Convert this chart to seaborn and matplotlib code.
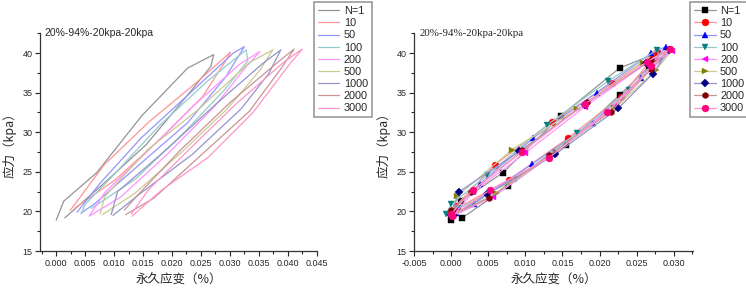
import numpy as np
import pandas as pd
import matplotlib
matplotlib.use('Agg')
import matplotlib.pyplot as plt
import matplotlib.colors as mcolors
import seaborn as sns
from matplotlib.ticker import MultipleLocator, AutoMinorLocator

sns.set_style('ticks')
plt.rcParams['font.family'] = ['Liberation Sans', 'Noto Sans CJK SC', 'DejaVu Sans']

# cycle labels
labels = ['N=1', '10', '50', '100', '200', '500', '1000', '2000', '3000']

# accumulated permanent strain at the start of each cycle (left panel shift)
offsets = [0.0000, 0.0024, 0.0036, 0.0050, 0.0055, 0.0076, 0.0095, 0.0118, 0.0130]

# loops relative to cycle start (right panel): loading branch then unloading branch
strain = [
    [0.0000, 0.0013, 0.0070, 0.0148, 0.0227, 0.0272, 0.0267, 0.0227, 0.0155, 0.0077, 0.0015],
    [0.0000, 0.0006, 0.0059, 0.0136, 0.0217, 0.0277, 0.0272, 0.0229, 0.0158, 0.0078, 0.0008],
    [0.0000, 0.0039, 0.0111, 0.0196, 0.0270, 0.0289, 0.0256, 0.0191, 0.0109, 0.0031, 0.0007],
    [-0.0007, 0.0000, 0.0049, 0.0129, 0.0212, 0.0278, 0.0281, 0.0240, 0.0170, 0.0087, 0.0011],
    [0.0003, 0.0029, 0.0100, 0.0180, 0.0262, 0.0297, 0.0270, 0.0219, 0.0138, 0.0056, 0.0002],
    [0.0000, 0.0008, 0.0082, 0.0170, 0.0258, 0.0298, 0.0276, 0.0220, 0.0141, 0.0060, 0.0004],
    [0.0000, 0.0011, 0.0092, 0.0180, 0.0262, 0.0293, 0.0272, 0.0225, 0.0140, 0.0049, 0.0003],
    [0.0000, 0.0027, 0.0096, 0.0183, 0.0269, 0.0293, 0.0270, 0.0215, 0.0132, 0.0051, 0.0002],
    [0.0000, 0.0029, 0.0095, 0.0181, 0.0264, 0.0295, 0.0270, 0.0210, 0.0132, 0.0052, 0.0001],
]
stress = [
    [18.9, 21.3, 24.9, 32.1, 38.1, 39.8, 38.3, 34.7, 28.4, 23.2, 19.2],
    [20.1, 20.7, 25.9, 31.3, 36.2, 40.1, 39.4, 34.5, 29.3, 24.0, 20.4],
    [19.9, 23.5, 29.3, 35.0, 40.0, 40.8, 36.9, 31.2, 26.0, 21.0, 19.8],
    [19.7, 20.9, 24.6, 30.9, 36.5, 40.4, 39.0, 35.3, 29.9, 24.1, 20.4],
    [19.5, 22.4, 27.4, 33.2, 38.6, 40.2, 38.0, 33.3, 27.3, 21.8, 19.4],
    [19.7, 21.9, 27.8, 32.9, 38.8, 40.4, 37.85, 33.0, 27.5, 22.3, 19.6],
    [19.6, 22.5, 27.6, 33.5, 38.7, 40.4, 37.4, 33.0, 27.2, 22.2, 19.5],
    [20.2, 22.4, 27.7, 33.8, 39.1, 40.5, 38.0, 32.6, 27.1, 21.7, 19.6],
    [19.7, 22.7, 27.5, 33.6, 38.9, 40.5, 38.3, 32.5, 26.8, 22.7, 19.4],
]

colors = ['#000000', '#ff0000', '#0000ff', '#008080', '#ff00ff',
          '#808000', '#000080', '#800000', '#ff0080']
markers = ['s', 'o', '^', 'v', '<', '>', 'D', 'h', 'o']
msizes = [4.5, 5, 5, 5, 5, 5, 3.6, 4.6, 5]

title = '20%-94%-20kpa-20kpa'


def faded(c, a=0.45):
    r, g, b = mcolors.to_rgb(c)
    return (1 - a + a * r, 1 - a + a * g, 1 - a + a * b)


fig = plt.figure(figsize=(7.46, 2.94), dpi=100)
ax1 = fig.add_axes([0.0536, 0.146, 0.371, 0.741])
ax2 = fig.add_axes([0.555, 0.146, 0.374, 0.741])

for i, lab in enumerate(labels):
    xs = np.array(strain[i]) + offsets[i]
    line_c = faded(colors[i], 0.42)
    sns.lineplot(x=xs, y=stress[i], sort=False, estimator=None, ax=ax1,
                 color=line_c, lw=0.9, label=lab)
    sns.lineplot(x=strain[i], y=stress[i], sort=False, estimator=None, ax=ax2,
                 color=line_c, lw=0.9, label=lab,
                 marker=markers[i], markersize=msizes[i], markeredgewidth=0.3,
                 markerfacecolor=colors[i], markeredgecolor=colors[i])

for ax in (ax1, ax2):
    ax.set_ylim(15, 42.5)
    ax.yaxis.set_major_locator(MultipleLocator(5))
    ax.yaxis.set_minor_locator(AutoMinorLocator(2))
    ax.xaxis.set_major_locator(MultipleLocator(0.005))
    ax.xaxis.set_minor_locator(AutoMinorLocator(2))
    ax.tick_params(which='major', direction='out', length=3.5, width=0.8, labelsize=6.5, pad=2)
    ax.tick_params(which='minor', direction='out', length=2, width=0.8)
    ax.xaxis.set_major_formatter(plt.FuncFormatter(lambda v, p: f'{v:.3f}'))
    for s in ('top', 'right'):
        ax.spines[s].set_visible(False)
    for s in ('left', 'bottom'):
        ax.spines[s].set_color('#333333')
        ax.spines[s].set_linewidth(0.9)
    ax.set_xlabel('永久应变（%）', fontsize=9, labelpad=4, family=['Noto Sans CJK SC'])
    ax.set_ylabel('应力（kpa）', fontsize=9, labelpad=4, family=['Noto Sans CJK SC'])
    leg = ax.legend(loc='upper left', bbox_to_anchor=(0.99, 1.142), borderaxespad=0,
                    fontsize=7.8, labelspacing=0.2, handlelength=2.0, handletextpad=0.4,
                    borderpad=0.35, frameon=True, fancybox=False, framealpha=1)
    leg.get_frame().set_edgecolor('#999999')
    leg.get_frame().set_linewidth(1.2)

ax1.set_xlim(-0.0028, 0.045)
ax2.set_xlim(-0.005, 0.0326)

ax1.text(0.017, 1.0, title, transform=ax1.transAxes, fontsize=7.5, va='center', ha='left')
ax2.text(0.02, 1.0, title, transform=ax2.transAxes, fontsize=7.8, va='center', ha='left',
         family=['Liberation Serif'])

fig.savefig('out.png', dpi=100)
